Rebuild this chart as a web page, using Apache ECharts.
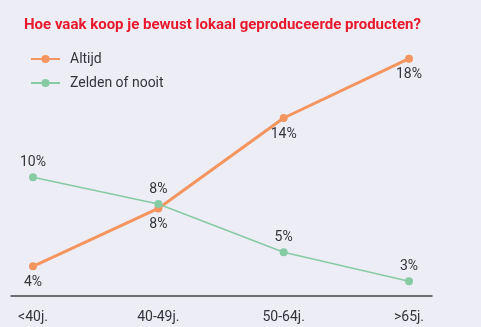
<!DOCTYPE html>
<html><head><meta charset="utf-8">
<script src="https://cdn.jsdelivr.net/npm/echarts@6/dist/echarts.min.js"></script>
<style>html,body{margin:0;padding:0;background:#ededf5;}#c{width:481px;height:327px;}</style>
</head><body><div id="c"></div>
<script>
const title = 'Hoe vaak koop je bewust lokaal geproduceerde producten?';
const categories = ['<40j.', '40-49j.', '50-64j.', '>65j.'];
const altijd = [4, 7.9, 14, 18];
const zelden = [10, 8.2, 4.95, 3];
const seriesNames = ['Altijd', 'Zelden of nooit'];

const chart = echarts.init(document.getElementById('c'));
const font = 'Roboto, sans-serif';
chart.setOption({
  backgroundColor: '#ededf5',
  animation: false,
  title: {
    text: title, left: 19, top: 13,
    textStyle: {color: '#e8192c', fontSize: 15, fontWeight: 'bold', fontFamily: font}
  },
  legend: {
    orient: 'vertical', left: 25, top: 47, itemWidth: 29, itemHeight: 10, itemGap: 10,
    data: seriesNames,
    textStyle: {color: '#333340', fontSize: 14, fontFamily: font, padding: [0, 0, 0, 5]}
  },
  grid: [
    {left: 33, right: 72, top: 29, bottom: 31},
    {left: 11, right: 49, top: 29, bottom: 31}
  ],
  xAxis: [
    {type: 'category', data: categories, boundaryGap: false, gridIndex: 0,
     axisLine: {show: false}, axisTick: {show: false},
     axisLabel: {color: '#333340', fontSize: 14, fontFamily: font, margin: 14}},
    {type: 'value', gridIndex: 1, min: 0, max: 1,
     axisLine: {show: true, lineStyle: {color: '#444', width: 1.5}},
     axisTick: {show: false}, axisLabel: {show: false}, splitLine: {show: false}}
  ],
  yAxis: [
    {type: 'value', min: 2, max: 20, gridIndex: 0, show: false, splitLine: {show: false}},
    {type: 'value', min: 0, max: 1, gridIndex: 1, show: false, splitLine: {show: false}}
  ],
  series: [
    {name: seriesNames[0], type: 'line', data: altijd, color: '#f4955f',
     symbol: 'circle', symbolSize: 8, lineStyle: {width: 3},
     label: {show: true, position: 'bottom', distance: 5, color: '#333340', fontSize: 14, fontFamily: font,
       formatter: p => Math.round(p.value) + '%'}},
    {name: seriesNames[1], type: 'line', data: zelden, color: '#86cba3',
     symbol: 'circle', symbolSize: 8, lineStyle: {width: 1.5},
     label: {show: true, position: 'top', distance: 4, color: '#333340', fontSize: 14, fontFamily: font,
       formatter: p => Math.round(p.value) + '%'}}
  ]
});
</script></body></html>
